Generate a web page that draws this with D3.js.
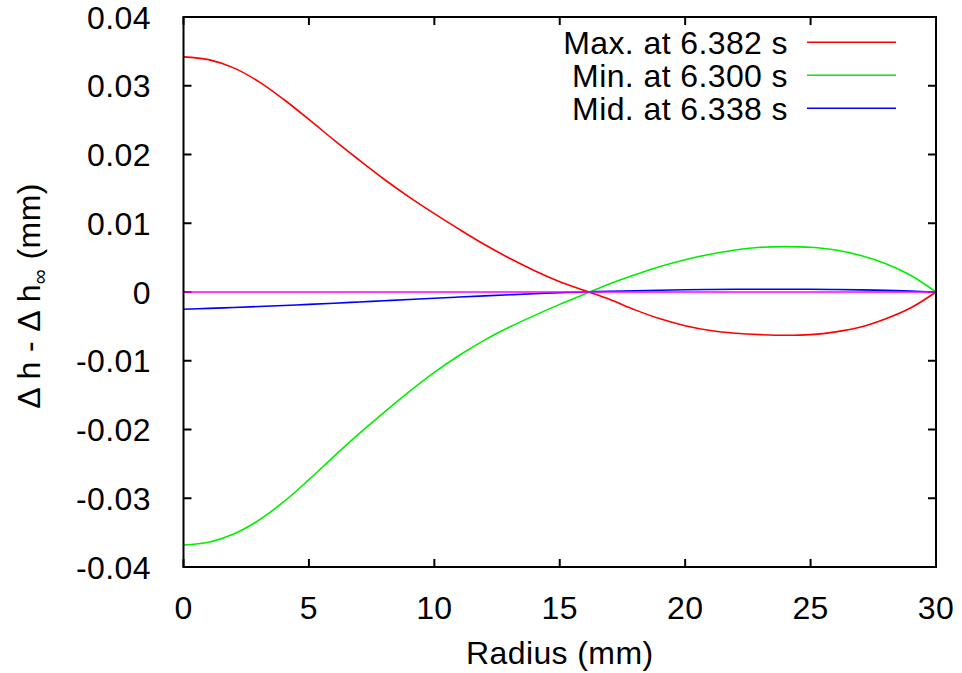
<!DOCTYPE html>
<html><head><meta charset="utf-8">
<script src="https://cdn.jsdelivr.net/npm/d3@7"></script>
<style>
html,body{margin:0;padding:0;background:#fff;}
text{font-family:"Liberation Sans",Arial,Helvetica,sans-serif;letter-spacing:0.4px;}
</style></head>
<body>
<svg id="chart" width="962" height="673"></svg>
<script>
const radius = [0,1,2,3,4,5,6,7,8,9,10,11,12,13,14,15,16,17,18,19,20,21,22,23,24,25,26,27,28,29,30];
const maxSeries = [0.0342,0.0338,0.0326,0.0306,0.0280,0.0251,0.0221,0.0192,0.0164,0.0138,0.0114,0.0091,0.0069,0.0049,0.0031,0.0015,0.0002,-0.0011,-0.0026,-0.0039,-0.0049,-0.0056,-0.0060,-0.0062,-0.0063,-0.0062,-0.0058,-0.0051,-0.0039,-0.0023,0];
const minSeries = [-0.0368,-0.0364,-0.0352,-0.0332,-0.0305,-0.0273,-0.0239,-0.0206,-0.0175,-0.0145,-0.0117,-0.0092,-0.0070,-0.0051,-0.0034,-0.0018,-0.0003,0.0012,0.0025,0.0037,0.0047,0.0055,0.0061,0.0065,0.0066,0.0065,0.0061,0.0053,0.0041,0.0024,0];
const midSeries = [-0.00250,-0.00238,-0.00225,-0.00211,-0.00196,-0.00180,-0.00163,-0.00145,-0.00127,-0.00109,-0.00091,-0.00073,-0.00056,-0.00040,-0.00025,-0.00012,0.00000,0.00010,0.00019,0.00026,0.00032,0.00036,0.00039,0.00040,0.00040,0.00039,0.00036,0.00031,0.00023,0.00013,0];
const zeroSeries = [0,0];
const zeroRadius = [0,30];
const seriesNames = ["Max. at 6.382 s","Min. at 6.300 s","Mid. at 6.338 s"];
const xTicks = [0,5,10,15,20,25,30];
const yTicks = [0.04,0.03,0.02,0.01,0,-0.01,-0.02,-0.03,-0.04];
const yTickLabels = ["0.04","0.03","0.02","0.01","0","-0.01","-0.02","-0.03","-0.04"];

const svg = d3.select("#chart");
const L = 183.5, R = 936, T = 17, B = 567;
const x = d3.scaleLinear().domain([0,30]).range([L,R]);
const y = d3.scaleLinear().domain([-0.04,0.04]).range([B,T]);
const fs = 32;
const tickLen = 8;

const g = svg.append("g");
xTicks.forEach(v => {
  g.append("line").attr("x1",x(v)).attr("x2",x(v)).attr("y1",B).attr("y2",B-tickLen).attr("stroke","#000").attr("stroke-width",2);
  g.append("line").attr("x1",x(v)).attr("x2",x(v)).attr("y1",T).attr("y2",T+tickLen).attr("stroke","#000").attr("stroke-width",2);
  g.append("text").attr("x",x(v)).attr("y",619).attr("text-anchor","middle").attr("font-size",fs).text(v);
});
yTicks.forEach((v,i) => {
  g.append("line").attr("x1",L).attr("x2",L+tickLen).attr("y1",y(v)).attr("y2",y(v)).attr("stroke","#000").attr("stroke-width",2);
  g.append("line").attr("x1",R).attr("x2",R-tickLen).attr("y1",y(v)).attr("y2",y(v)).attr("stroke","#000").attr("stroke-width",2);
  g.append("text").attr("x",151).attr("y",y(v)+11.5).attr("text-anchor","end").attr("font-size",fs).text(yTickLabels[i]);
});

const line = d3.line().x(d=>x(d[0])).y(d=>y(d[1])).curve(d3.curveCatmullRom.alpha(0.5));
const plot = svg.append("g");
const series = [
  {vals:maxSeries, color:"#ff0000"},
  {vals:minSeries, color:"#00ee00"},
  {vals:midSeries, color:"#0000ff"}
];
series.forEach(s => {
  plot.append("path").datum(radius.map((r,i)=>[r,s.vals[i]]))
    .attr("d",line).attr("fill","none").attr("stroke",s.color).attr("stroke-width",1.6);
});
plot.append("path").datum(zeroRadius.map((r,i)=>[r,zeroSeries[i]]))
  .attr("d",line).attr("fill","none").attr("stroke","#ff00ff").attr("stroke-width",1.6);

svg.append("rect").attr("x",L).attr("y",T).attr("width",R-L).attr("height",B-T)
  .attr("fill","none").attr("stroke","#000").attr("stroke-width",2);

series.forEach((s,i) => {
  const yy = 42.3 + i*33;
  svg.append("text").attr("x",788).attr("y",yy+11.5).attr("text-anchor","end").attr("font-size",fs).text(seriesNames[i]);
  svg.append("line").attr("x1",807).attr("x2",896).attr("y1",yy).attr("y2",yy).attr("stroke",s.color).attr("stroke-width",1.6);
});

svg.append("text").attr("x",(L+R)/2).attr("y",664).attr("text-anchor","middle").attr("font-size",fs).text("Radius (mm)");
const yl = svg.append("text").attr("transform","translate(40,296) rotate(-90)").attr("text-anchor","middle").attr("font-size",fs);
yl.append("tspan").text("Δ h - Δ h");
yl.append("tspan").attr("font-size",21).attr("dy",7).text("∞");
yl.append("tspan").attr("dy",-7).text(" (mm)");
</script>
</body></html>
